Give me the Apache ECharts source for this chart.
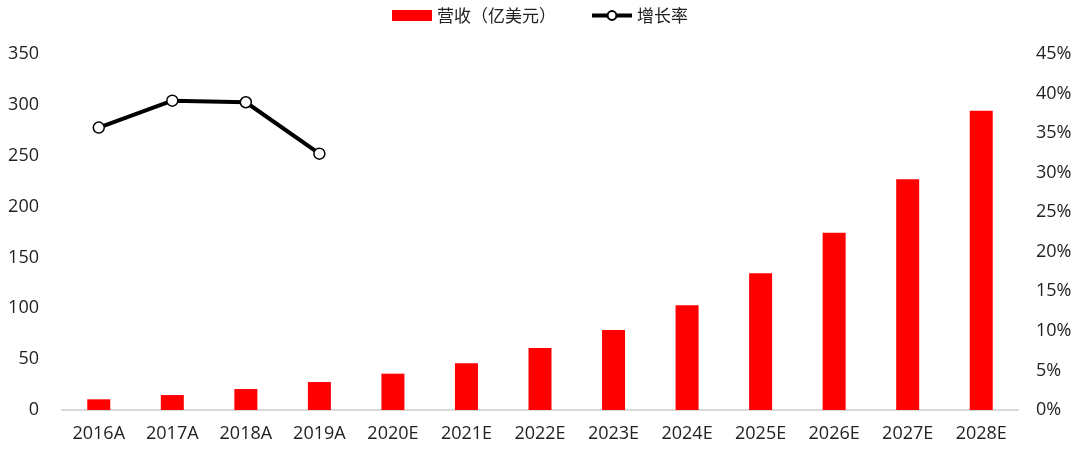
<!DOCTYPE html>
<html><head><meta charset="utf-8">
<script src="https://cdn.jsdelivr.net/npm/echarts@6/dist/echarts.min.js"></script>
<style>html,body{margin:0;padding:0;background:#fff}#c{width:1080px;height:451px}</style>
</head><body><div id="c"></div>
<script>
const categories = ['2016A','2017A','2018A','2019A','2020E','2021E','2022E','2023E','2024E','2025E','2026E','2027E','2028E'];
const revenue = [10.5, 14.7, 20.6, 27.5, 35.7, 46, 61, 78.7, 102.9, 134.4, 174.3, 226.8, 294.3];
const growth = [35.7, 39.1, 38.9, 32.4, null, null, null, null, null, null, null, null, null];
const leftTicks = {min: 0, max: 350, interval: 50};
const rightTicks = {min: 0, max: 45, interval: 5};

const font = '"Open Sans", "Noto Sans CJK SC", sans-serif';
const chart = echarts.init(document.getElementById('c'));
chart.setOption({
  animation: false,
  textStyle: {fontFamily: font},
  legend: {
    top: 2, left: 'center', itemGap: 34, itemWidth: 40, itemHeight: 11,
    textStyle: {fontSize: 17, color: '#222', fontFamily: '"Noto Sans CJK SC", sans-serif'},
    data: [{name: '营收（亿美元）', icon: 'rect'}, {name: '增长率', lineStyle: {width: 4}}]
  },
  grid: {left: 62, right: 62, top: 54, bottom: 41, containLabel: false},
  xAxis: {
    type: 'category', data: categories,
    axisLine: {lineStyle: {color: '#d9d9d9', width: 2}},
    axisTick: {show: false},
    axisLabel: {fontSize: 18, color: '#222', margin: 15, fontFamily: font, interval: 0}
  },
  yAxis: [
    {type: 'value', min: leftTicks.min, max: leftTicks.max, interval: leftTicks.interval,
     splitLine: {show: false}, axisLine: {show: false}, axisTick: {show: false},
     axisLabel: {fontSize: 18, color: '#222', margin: 23, fontFamily: font}},
    {type: 'value', min: rightTicks.min, max: rightTicks.max, interval: rightTicks.interval,
     splitLine: {show: false}, axisLine: {show: false}, axisTick: {show: false},
     axisLabel: {fontSize: 18, color: '#222', margin: 18, formatter: '{value}%', fontFamily: font}}
  ],
  series: [
    {name: '营收（亿美元）', type: 'bar', data: revenue, barWidth: 23,
     itemStyle: {color: '#ff0000'}},
    {name: '增长率', type: 'line', yAxisIndex: 1, data: growth,
     lineStyle: {color: '#000', width: 4}, itemStyle: {color: '#fff', borderColor: '#000', borderWidth: 1.5},
     symbol: 'circle', symbolSize: 11, connectNulls: false}
  ]
});
</script></body></html>
